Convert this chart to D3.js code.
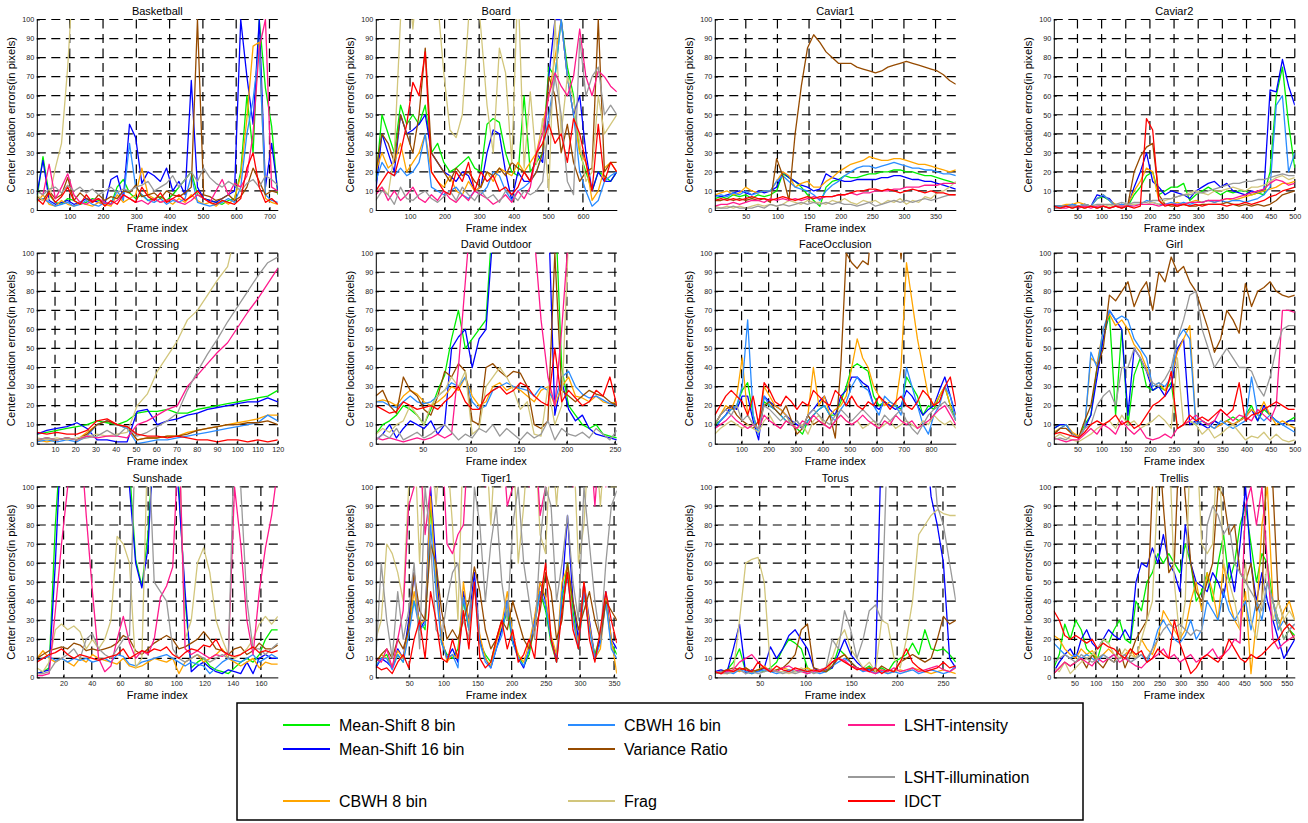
<!DOCTYPE html>
<html>
<head>
<meta charset="utf-8">
<script src="https://cdn.jsdelivr.net/npm/d3@7"></script>
<style>
  body { margin: 0; background: #fff; }
  svg text { font-family: "Liberation Sans", Arial, sans-serif; }
</style>
</head>
<body>
<script>
'use strict';
// methods, in legend / drawing order
const methods = ["Mean-Shift 8 bin", "Mean-Shift 16 bin", "CBWH 8 bin", "CBWH 16 bin",
  "Variance Ratio", "Frag", "LSHT-intensity", "LSHT-illumination", "IDCT"];
const colors = ["#00ee00", "#0000ff", "#ffa500", "#2a8cff", "#964b00", "#d2c67c", "#ff1a8c", "#999999", "#ff0000"];

const sequences = ["Basketball", "Board", "Caviar1", "Caviar2", "Crossing", "David Outdoor",
  "FaceOcclusion", "Girl", "Sunshade", "Tiger1", "Torus", "Trellis"];
const frameCounts = [725, 698, 382, 500, 120, 252, 892, 500, 172, 354, 264, 569];
const xTickSets = [
  [100, 200, 300, 400, 500, 600, 700],
  [100, 200, 300, 400, 500, 600],
  [50, 100, 150, 200, 250, 300, 350],
  [50, 100, 150, 200, 250, 300, 350, 400, 450, 500],
  [10, 20, 30, 40, 50, 60, 70, 80, 90, 100, 110, 120],
  [50, 100, 150, 200, 250],
  [100, 200, 300, 400, 500, 600, 700, 800],
  [50, 100, 150, 200, 250, 300, 350, 400, 450, 500],
  [20, 40, 60, 80, 100, 120, 140, 160],
  [50, 100, 150, 200, 250, 300, 350],
  [50, 100, 150, 200, 250],
  [50, 100, 150, 200, 250, 300, 350, 400, 450, 500, 550]
];
const yTicks = [0, 10, 20, 30, 40, 50, 60, 70, 80, 90, 100];

// center location errors, sampled evenly over the frames of each sequence
// rows follow the methods order
const basketball = [
  [5,28,8,4,3,6,5,3,4,6,5,4,3,12,16,9,6,8,5,6,7,5,8,12,16,20,8,6,5,4,3,5,6,20,60,30,100,64,44,8],
  [8,26,5,3,4,5,3,4,6,5,4,3,16,18,6,45,38,14,20,18,15,22,10,15,8,68,12,6,5,4,6,8,10,100,70,45,100,12,35,10],
  [4,8,3,2,5,3,2,4,3,2,4,3,2,8,4,6,8,22,8,6,4,5,3,6,4,8,5,3,4,2,5,3,6,18,48,86,88,6,4,3],
  [5,6,4,2,3,4,2,3,5,3,2,4,3,10,5,35,12,8,5,4,6,3,5,4,6,18,4,3,2,3,4,6,4,12,40,58,85,8,5,4],
  [7,5,10,6,8,17,5,9,6,4,8,5,7,6,10,9,13,7,8,9,6,10,8,7,9,12,100,8,7,5,6,8,5,7,12,22,15,8,10,9],
  [8,5,6,22,35,75,130,150,150,150,150,150,150,150,150,150,150,150,150,150,150,150,150,150,150,150,150,150,150,150,150,150,150,150,150,150,150,150,150,150],
  [10,8,24,6,12,19,8,4,3,5,6,4,3,5,8,6,4,5,3,6,4,5,6,4,3,5,8,6,4,10,16,8,14,12,18,40,85,100,12,10],
  [10,8,11,12,9,13,10,12,9,11,8,10,12,9,11,10,12,13,15,10,12,14,18,12,16,20,15,22,17,14,12,15,13,10,14,16,12,18,16,13],
  [6,3,9,4,7,12,5,3,8,4,6,2,5,3,8,6,4,12,7,5,9,4,6,8,5,7,10,6,4,3,5,4,3,6,22,30,12,4,6,3]
];
const board = [
  [15,50,40,30,55,45,50,45,55,30,35,25,20,22,25,28,22,20,45,48,46,30,20,18,60,20,25,30,75,70,100,75,60,30,20,10,20,18,15,20],
  [10,40,30,20,50,40,42,45,50,30,25,20,18,15,20,18,10,12,30,42,40,20,5,20,15,15,30,25,70,100,100,70,50,60,30,10,20,15,15,20],
  [20,30,22,25,35,20,25,30,40,20,15,12,18,10,8,15,10,12,20,15,22,20,18,25,20,25,30,45,60,80,100,70,50,30,25,5,10,22,25,20],
  [15,25,20,18,22,18,20,25,40,12,10,8,10,12,8,6,10,8,12,20,18,10,5,10,12,15,20,30,50,70,100,70,50,20,10,2,5,15,18,20],
  [20,40,35,25,50,40,30,50,85,30,25,20,15,22,18,20,15,12,20,18,22,18,25,22,20,15,20,30,70,60,30,45,25,15,20,22,100,20,25,25],
  [10,12,8,30,100,130,95,130,130,130,110,72,42,38,50,100,130,95,55,30,85,72,25,120,22,62,24,48,10,100,40,70,58,35,15,20,60,40,45,50],
  [8,12,5,10,5,8,12,6,4,8,5,10,6,4,8,5,10,8,6,3,5,8,4,10,6,12,30,40,60,72,65,60,70,95,70,60,73,70,65,62],
  [5,10,8,3,12,6,5,8,10,6,4,7,10,5,12,8,5,10,6,8,4,10,8,5,10,8,10,15,45,70,50,15,8,90,60,70,75,50,55,50],
  [10,15,20,18,30,45,67,60,83,20,15,10,8,20,15,25,10,20,15,18,10,12,8,12,20,15,30,35,45,35,40,25,48,40,25,10,45,15,25,20]
];
const caviar1 = [
  [6,7,6,8,7,8,6,8,7,8,10,19,17,15,12,8,5,2,12,15,16,18,17,17,18,19,19,20,20,21,21,20,20,19,18,18,17,16,15,14],
  [8,7,8,9,10,9,8,10,9,10,12,20,17,15,13,12,10,11,19,17,16,15,15,16,16,16,16,17,17,18,18,17,16,16,15,15,14,13,12,11],
  [8,9,10,8,9,12,10,9,10,10,15,20,18,12,14,15,12,12,15,17,20,22,24,25,26,28,27,26,26,27,27,26,25,24,24,23,22,21,20,21],
  [7,8,7,9,8,10,8,9,10,10,15,18,15,12,11,10,8,5,10,13,15,18,20,22,23,23,22,23,24,25,24,23,22,22,21,21,20,19,19,18],
  [5,5,6,5,6,5,6,5,6,4,27,18,5,40,65,85,92,88,83,80,77,77,77,75,74,73,72,73,75,76,77,78,77,76,75,74,73,71,68,66],
  [2,1,2,1,2,1,2,3,2,3,2,3,5,4,3,5,4,4,3,5,4,6,4,3,5,4,5,3,5,4,6,3,5,4,7,6,9,10,12,15],
  [2,3,3,4,3,4,5,5,4,6,5,6,5,6,5,6,7,6,7,7,8,8,9,8,9,9,10,10,10,11,11,12,12,12,13,13,13,14,14,14],
  [1,1,1,2,1,1,1,2,1,3,2,3,2,3,4,3,4,3,4,3,4,3,3,2,3,4,2,3,4,5,4,5,4,5,6,5,6,7,8,8],
  [5,6,5,6,5,6,7,6,6,5,6,7,6,5,6,7,6,7,7,7,8,8,9,10,10,11,11,10,11,10,9,10,11,10,9,10,9,9,8,8]
];
const caviar2 = [
  [2,2,2,3,2,3,2,6,7,5,2,3,2,8,12,18,20,8,10,12,12,14,5,8,10,12,10,8,10,9,10,10,8,9,8,20,60,75,45,22],
  [2,2,2,3,2,3,2,8,7,6,2,3,2,12,20,30,15,12,8,10,9,8,6,10,12,14,15,12,14,10,9,8,10,9,10,63,62,79,65,55],
  [2,2,3,3,4,3,2,6,8,5,3,2,3,10,15,22,20,5,3,3,4,3,4,5,4,5,4,5,6,5,6,7,8,9,10,11,12,14,14,15],
  [2,2,2,3,2,3,2,6,8,5,2,3,2,3,3,5,4,3,3,4,3,4,3,4,4,5,4,5,4,5,5,4,5,6,8,12,55,60,20,30],
  [1,1,2,1,2,1,2,1,2,1,2,1,3,20,28,33,35,8,3,2,2,3,2,2,3,3,3,3,4,3,2,3,2,3,2,3,5,8,9,10],
  [1,1,2,1,2,1,2,2,3,2,3,2,3,3,3,3,4,3,5,6,7,8,9,10,9,8,10,10,11,12,11,10,12,12,13,15,17,18,16,17],
  [1,1,1,2,1,2,1,2,2,1,2,2,2,2,3,3,3,2,3,3,3,3,4,4,4,5,5,5,6,6,7,8,9,10,11,14,16,15,13,14],
  [1,1,2,2,2,3,2,3,3,3,3,4,3,4,4,4,5,5,6,6,7,8,8,9,9,10,11,12,13,14,14,15,15,16,16,17,18,19,18,18],
  [2,1,2,1,2,1,2,1,2,1,2,1,2,1,2,48,42,5,2,3,2,3,2,3,2,3,3,3,2,3,3,4,3,4,5,7,8,10,11,12]
];
const crossing = [
  [5,6,7,8,9,10,12,11,10,12,16,17,17,18,16,16,18,19,20,21,22,23,24,25,28],
  [5,7,8,9,11,8,2,2,1,1,17,18,10,12,13,15,16,18,19,20,21,22,22,24,22],
  [2,1,2,3,2,6,10,12,10,8,2,3,3,4,4,6,7,8,9,10,11,12,13,15,15],
  [1,2,1,2,1,4,10,12,10,8,0,1,2,2,3,4,5,6,7,8,9,10,11,15,12],
  [2,3,2,3,2,5,10,12,10,9,2,3,3,4,4,5,7,8,9,10,10,11,11,12,10],
  [3,2,3,2,3,4,5,4,5,6,20,26,38,46,54,65,70,78,86,93,115,130,130,130,130],
  [2,3,2,3,2,4,3,4,4,3,10,12,15,18,20,30,36,42,48,53,61,69,76,84,92],
  [2,3,2,3,2,3,4,7,4,9,4,6,9,12,16,28,38,47,55,64,72,80,88,95,98],
  [6,5,6,5,5,7,12,13,10,9,5,4,4,3,4,3,2,2,1,2,2,1,2,1,2]
];
const davidOutdoor = [
  [5,10,12,15,20,18,15,10,18,28,36,55,70,50,55,60,65,120,130,130,130,130,130,130,130,130,130,40,20,15,10,8,10,5,4,3],
  [2,5,10,3,8,12,10,8,12,5,10,50,56,60,40,55,60,110,130,130,130,130,130,130,130,130,15,33,18,12,15,8,5,4,3,2],
  [22,23,22,20,25,28,26,22,20,22,25,30,28,35,25,20,22,30,32,28,30,28,25,22,28,30,20,30,35,25,24,22,25,22,21,22],
  [22,22,20,19,22,25,22,21,22,25,28,32,30,35,22,18,20,28,30,32,30,29,28,25,30,28,22,35,38,30,26,24,25,23,21,20],
  [25,28,20,16,35,28,25,18,15,25,38,35,42,38,12,10,40,42,38,35,38,37,30,10,8,12,100,28,25,22,25,28,26,25,22,20],
  [5,8,6,10,12,20,15,10,20,25,28,35,30,38,5,8,30,35,40,35,28,18,22,5,4,30,10,20,110,130,130,130,130,130,130,130],
  [3,2,3,2,1,2,3,2,3,5,3,5,40,85,130,130,130,130,130,130,130,130,130,110,65,35,20,60,110,130,130,130,130,130,130,130],
  [2,5,3,8,2,4,6,3,5,8,10,6,2,5,3,8,6,10,4,8,5,2,6,3,5,12,2,8,5,4,6,3,8,5,2,7],
  [20,18,16,17,22,20,18,19,20,18,22,25,30,22,18,18,25,28,30,26,28,32,30,25,22,20,50,22,28,24,20,22,28,25,35,20]
];
const faceOcclusion = [
  [10,12,15,18,20,28,32,15,5,22,20,18,15,12,10,8,5,12,15,18,20,15,15,22,30,40,42,40,38,25,20,22,20,20,18,35,30,25,15,20,18,25,30,20,12],
  [8,12,15,20,18,25,25,12,2,25,22,20,18,15,12,10,8,15,18,22,25,18,15,25,28,35,35,32,30,20,18,22,20,18,20,28,25,20,15,18,20,28,35,25,15],
  [10,15,20,18,25,45,15,10,8,30,25,20,18,15,10,12,8,15,40,20,25,15,18,20,25,40,55,45,40,30,25,20,22,20,40,95,75,55,40,25,20,25,30,20,15],
  [8,12,15,18,20,30,65,15,5,25,20,18,15,12,10,12,8,12,15,18,20,15,12,18,22,30,35,30,28,20,15,25,22,20,15,40,30,20,10,5,15,20,30,25,12],
  [10,15,18,20,15,12,10,8,12,20,22,18,15,20,12,5,8,15,10,12,10,15,3,40,100,95,92,96,94,130,130,130,130,130,97,130,130,130,130,130,130,130,130,130,130],
  [5,8,10,12,10,8,10,8,6,12,15,10,8,12,10,8,10,5,12,15,10,8,12,15,12,10,12,8,10,12,8,10,12,8,10,12,10,8,12,10,15,12,10,12,8],
  [8,10,12,15,12,10,8,10,8,15,12,10,8,12,10,8,12,10,15,12,10,8,12,15,12,10,12,15,12,10,8,12,10,15,12,10,12,8,10,12,15,18,20,15,10],
  [10,15,18,15,20,12,15,10,8,20,18,15,12,15,10,12,8,15,18,15,12,10,15,18,15,12,15,18,15,12,10,15,12,15,18,12,8,5,10,15,18,20,22,18,12],
  [15,20,25,28,25,22,15,25,10,32,28,22,20,25,22,18,22,20,28,25,22,20,28,25,20,25,20,18,22,20,25,22,18,22,25,20,18,22,28,25,20,22,30,35,20]
];
const girl = [
  [8,10,10,5,3,10,15,40,55,68,15,60,10,36,45,30,28,30,28,32,8,10,12,10,12,10,12,10,12,14,12,15,20,12,18,15,12,10,12,14],
  [8,10,10,5,3,8,15,35,55,70,65,60,15,50,45,38,28,30,25,30,50,55,10,12,10,8,12,10,12,10,12,14,18,12,20,15,12,10,12,12],
  [6,8,10,6,4,8,45,42,60,68,62,65,60,52,48,40,30,32,28,35,48,55,62,10,12,10,8,10,12,10,12,14,18,15,22,15,10,12,10,8],
  [5,8,10,5,3,8,48,40,60,70,65,67,65,55,50,45,30,32,30,35,55,60,55,10,12,10,8,12,10,8,10,12,35,15,12,15,12,10,8,6],
  [5,8,8,5,3,12,20,40,50,78,75,80,85,72,80,85,70,90,85,98,90,93,85,80,70,60,48,55,70,65,58,84,72,80,82,85,80,78,77,78],
  [3,5,3,2,1,3,5,8,10,12,8,15,10,12,8,10,12,15,12,8,45,10,12,10,5,8,3,5,8,10,6,2,4,3,6,2,5,2,1,2],
  [3,2,1,2,2,5,8,5,10,8,5,12,8,5,8,3,2,3,5,3,8,10,12,15,12,10,12,18,15,12,15,14,12,18,15,12,20,70,70,69],
  [2,3,2,5,3,8,10,20,25,28,20,40,40,50,45,38,32,30,34,40,55,65,78,80,60,50,40,45,50,45,40,40,38,30,25,35,50,60,62,62],
  [5,6,5,4,3,6,10,12,10,12,15,10,12,8,10,15,20,22,25,38,8,10,15,12,14,12,15,18,15,18,32,12,15,16,18,20,22,20,18,18]
];
const sunshade = [
  [2,3,5,80,130,130,130,130,130,130,130,130,130,130,130,110,62,48,75,130,130,130,130,100,40,5,8,10,6,4,3,2,5,8,10,8,12,20,25,25],
  [2,3,4,60,130,130,130,130,130,130,130,130,130,130,130,100,60,47,68,130,130,130,130,95,45,3,6,8,5,3,2,4,3,2,8,2,10,12,10,10],
  [10,14,10,8,10,8,6,10,8,12,10,9,8,7,10,6,5,6,8,10,9,8,10,2,8,10,12,8,10,12,15,10,8,6,8,10,5,8,7,7],
  [9,10,11,9,10,8,10,9,10,8,9,10,8,12,11,7,6,8,9,10,11,12,10,8,6,8,7,6,2,5,8,10,9,8,10,12,8,10,12,10],
  [10,12,14,15,16,15,18,17,14,15,14,15,16,18,22,20,14,12,15,18,20,22,20,15,16,18,20,24,20,15,14,12,15,16,12,14,18,15,15,17],
  [5,3,8,25,28,25,27,24,15,20,15,20,30,74,70,60,5,10,130,130,130,130,130,130,20,30,60,68,55,30,20,12,10,12,15,20,28,32,28,32],
  [1,1,2,35,70,100,130,130,85,45,10,3,6,20,32,18,10,14,12,20,42,48,58,130,15,12,14,12,10,12,11,13,100,70,30,12,45,68,85,110],
  [2,2,3,8,10,12,15,10,20,23,15,12,10,15,20,22,130,130,130,50,45,40,15,10,8,10,12,10,8,10,12,10,130,100,40,15,15,12,15,18],
  [8,10,12,13,15,12,10,12,11,10,9,10,11,12,15,10,12,14,13,15,14,16,12,10,13,15,14,17,16,20,14,12,11,12,14,16,13,14,13,14]
];
const tiger1 = [
  [6,10,12,5,12,8,28,40,30,25,90,55,18,12,10,15,40,25,50,18,12,8,20,25,35,18,12,6,12,28,45,35,18,8,40,60,35,15,45,25,12,22,40,18,12],
  [5,10,8,5,15,10,30,55,25,30,100,60,20,10,15,8,45,30,55,20,10,5,15,25,40,20,10,5,15,30,50,40,20,10,45,85,40,20,50,30,10,20,45,20,15],
  [8,12,10,6,14,10,25,45,28,30,95,50,22,8,12,10,50,28,48,22,10,6,18,28,45,22,12,8,18,32,50,42,22,12,50,58,30,18,50,28,10,15,42,20,2],
  [6,10,10,4,12,8,22,40,25,28,80,45,18,10,12,5,42,25,50,18,8,5,15,22,40,18,10,6,15,28,45,38,20,8,45,52,30,15,45,25,10,18,40,15,10],
  [8,12,15,10,20,15,25,55,35,30,70,60,35,20,25,20,30,40,58,45,25,15,20,30,25,40,30,20,15,25,35,55,45,20,30,60,40,25,35,45,30,20,40,35,30],
  [20,30,70,65,55,40,100,130,60,130,130,90,130,120,80,30,130,130,130,100,130,80,130,100,130,130,60,90,130,130,75,65,130,90,130,100,130,60,80,130,130,90,130,100,100],
  [10,8,15,5,20,35,90,100,120,75,100,110,130,70,65,75,80,130,130,130,100,130,130,130,90,100,130,130,100,130,85,100,130,130,130,130,100,130,130,130,90,130,100,130,130],
  [10,60,30,10,45,20,35,60,15,100,70,25,20,40,55,60,30,20,100,80,40,70,90,50,30,80,100,60,40,20,70,100,90,40,60,85,50,30,100,70,40,20,60,90,98],
  [6,4,5,2,8,12,5,20,30,10,45,30,10,8,20,10,35,15,50,10,5,8,20,30,15,25,8,12,20,10,40,60,20,8,35,55,25,15,50,20,8,25,45,30,18]
];
const torus = [
  [2,3,4,8,15,3,2,4,3,5,8,15,20,18,15,5,3,4,3,5,15,12,8,5,4,6,3,5,3,8,10,12,18,12,25,15,14,15,12,8],
  [3,4,3,15,28,2,4,3,5,16,10,15,22,25,20,15,5,3,4,5,12,20,12,8,5,4,5,130,130,130,130,130,130,130,130,95,80,60,10,5],
  [2,3,2,4,3,5,3,4,6,3,4,5,4,3,4,5,3,4,3,8,10,12,8,5,4,5,3,4,2,3,4,3,5,4,3,2,3,4,3,2],
  [3,2,3,2,4,3,2,3,4,3,2,3,4,3,4,2,3,2,3,6,8,10,8,5,3,4,2,3,2,3,2,3,4,2,3,4,3,2,3,6],
  [2,3,4,5,4,5,3,4,5,3,4,5,8,12,25,28,5,4,3,6,10,12,8,5,4,5,3,6,4,3,8,10,12,10,8,10,20,32,28,30],
  [3,2,2,3,30,60,62,63,50,5,3,3,2,3,5,3,3,4,5,10,20,25,15,10,5,8,3,30,28,10,5,20,40,75,80,85,88,86,85,85],
  [3,2,3,4,8,10,12,8,5,4,3,5,6,4,3,2,3,4,5,8,10,9,6,5,4,3,2,4,3,5,3,4,5,3,4,5,6,4,3,5],
  [2,3,2,3,4,2,3,2,3,4,3,2,3,2,3,4,2,3,5,20,15,35,25,10,20,35,38,30,130,130,130,130,130,130,130,130,90,80,60,40],
  [3,2,4,3,5,4,3,8,5,3,6,4,3,5,4,3,4,3,5,8,10,8,6,4,5,3,5,2,4,3,8,15,8,5,3,4,5,8,5,6]
];
const trellis = [
  [5,12,28,20,30,25,15,12,10,20,18,25,30,20,18,40,35,50,55,65,60,65,60,55,70,60,40,45,55,40,60,75,50,60,80,90,70,50,65,60,40,30,20,25,22],
  [3,8,12,15,10,20,25,18,15,20,25,22,20,25,20,50,60,58,68,60,75,60,55,45,80,60,50,48,45,55,50,42,60,45,70,100,60,40,55,40,30,20,10,15,20],
  [22,20,15,12,10,15,12,14,10,12,15,12,10,12,15,10,20,15,12,20,35,30,25,20,25,40,50,35,55,45,30,60,40,30,25,45,2,30,80,100,40,25,35,40,30],
  [18,15,12,10,12,10,12,10,8,12,10,12,10,12,8,10,12,8,15,25,30,25,20,18,22,30,20,25,40,35,30,45,35,30,35,40,25,40,30,50,40,25,30,25,28],
  [2,5,8,6,8,10,5,12,8,5,10,8,15,5,12,20,25,30,100,130,90,55,60,130,95,60,45,40,50,60,100,95,75,80,55,50,60,35,40,130,100,40,30,25,20],
  [5,3,8,2,5,8,10,12,15,20,18,12,10,15,12,10,20,30,40,100,130,130,50,20,40,130,130,70,65,70,130,60,50,40,25,60,30,20,40,60,30,40,30,35,30],
  [2,5,8,6,8,10,8,6,10,8,10,12,8,10,8,6,5,8,10,12,15,10,12,8,10,12,8,10,12,15,10,12,15,20,18,90,100,80,100,60,20,15,18,20,22],
  [8,10,12,10,8,12,10,8,10,12,10,8,10,12,8,10,12,10,15,20,25,28,26,28,25,22,25,24,80,90,85,75,80,60,55,50,45,40,35,50,40,30,20,25,28],
  [35,30,22,20,22,20,18,20,15,18,16,15,12,10,15,12,14,8,10,15,12,10,30,18,10,2,5,10,12,10,8,12,20,15,10,8,12,10,12,15,18,20,25,28,25]
];
const allErrors = [basketball, board, caviar1, caviar2, crossing, davidOutdoor,
  faceOcclusion, girl, sunshade, tiger1, torus, trellis];

// legend layout: which column / row each method sits in
const legendCol = [0, 0, 0, 1, 1, 1, 2, 2, 2];
const legendRowY = [725, 749, 801, 725, 749, 801, 725, 777, 801];

(function () {
  const svg = d3.select('body').append('svg')
    .attr('width', 1308)
    .attr('height', 823);

  const plotW = 241, plotH = 190.5;

  sequences.forEach((name, k) => {
    const col = k % 4, row = Math.floor(k / 4);
    const left = 36.8 + col * 339;
    const top = 19.5 + row * 233.7;
    const n = frameCounts[k];

    const x = d3.scaleLinear().domain([1, n]).range([left, left + plotW]);
    const y = d3.scaleLinear().domain([0, 100]).range([top + plotH, top]);
    const g = svg.append('g');

    g.append('clipPath').attr('id', 'clip' + k)
      .append('rect')
      .attr('x', left).attr('y', top - 0.5)
      .attr('width', plotW).attr('height', plotH + 1);

    // dashed grid
    g.selectAll('line.hg').data(yTicks.filter(d => d > 0)).join('line')
      .attr('class', 'hg')
      .attr('x1', left).attr('x2', left + plotW)
      .attr('y1', d => y(d)).attr('y2', d => y(d))
      .attr('stroke', '#000').attr('stroke-width', 1.2)
      .attr('stroke-dasharray', '9,5.5');
    g.selectAll('line.vg').data(xTickSets[k]).join('line')
      .attr('class', 'vg')
      .attr('x1', d => x(d)).attr('x2', d => x(d))
      .attr('y1', top).attr('y2', top + plotH)
      .attr('stroke', '#000').attr('stroke-width', 1.2)
      .attr('stroke-dasharray', '9,5.5');

    // error curves
    allErrors[k].forEach((vals, m) => {
      const line = d3.line()
        .x((d, i) => x(1 + i * (n - 1) / (vals.length - 1)))
        .y(d => y(d));
      g.append('path')
        .datum(vals)
        .attr('clip-path', 'url(#clip' + k + ')')
        .attr('fill', 'none')
        .attr('stroke', colors[m])
        .attr('stroke-width', 1.3)
        .attr('stroke-linejoin', 'round')
        .attr('d', line);
    });

    // axes
    const xAxis = d3.axisBottom(x).tickValues(xTickSets[k])
      .tickSizeInner(-3).tickSizeOuter(0).tickPadding(3.5);
    const yAxis = d3.axisLeft(y).tickValues(yTicks)
      .tickSizeInner(-3).tickSizeOuter(0).tickPadding(2.5);
    const gx = g.append('g').attr('transform', 'translate(0,' + (top + plotH) + ')').call(xAxis);
    const gy = g.append('g').attr('transform', 'translate(' + left + ',0)').call(yAxis);
    [gx, gy].forEach(a => {
      a.attr('font-family', null).attr('font-size', null);
      a.selectAll('text').style('font-size', '7.2px').attr('fill', '#222');
      a.selectAll('path, line').attr('stroke', '#000');
    });

    g.append('text')
      .attr('x', left + plotW / 2).attr('y', top - 5)
      .attr('text-anchor', 'middle')
      .style('font-size', '11px')
      .text(name);
    g.append('text')
      .attr('x', left + plotW / 2).attr('y', top + plotH + 21.5)
      .attr('text-anchor', 'middle')
      .style('font-size', '11px')
      .text('Frame index');
    g.append('text')
      .attr('transform', 'translate(' + (left - 22) + ',' + (top + plotH / 2) + ')rotate(-90)')
      .attr('text-anchor', 'middle')
      .style('font-size', '11.2px')
      .text('Center location errors(in pixels)');
  });

  // legend
  const legendX = [283, 568, 848];
  const lg = svg.append('g');
  lg.append('rect')
    .attr('x', 237).attr('y', 703)
    .attr('width', 846).attr('height', 117)
    .attr('fill', '#fff').attr('stroke', '#000').attr('stroke-width', 1.5);
  methods.forEach((m, i) => {
    const lx = legendX[legendCol[i]], ly = legendRowY[i];
    lg.append('line')
      .attr('x1', lx).attr('x2', lx + 47)
      .attr('y1', ly).attr('y2', ly)
      .attr('stroke', colors[i]).attr('stroke-width', 2);
    lg.append('text')
      .attr('x', lx + 56).attr('y', ly)
      .attr('dy', '0.35em')
      .style('font-size', '16px')
      .text(m);
  });
})();
</script>
</body>
</html>
